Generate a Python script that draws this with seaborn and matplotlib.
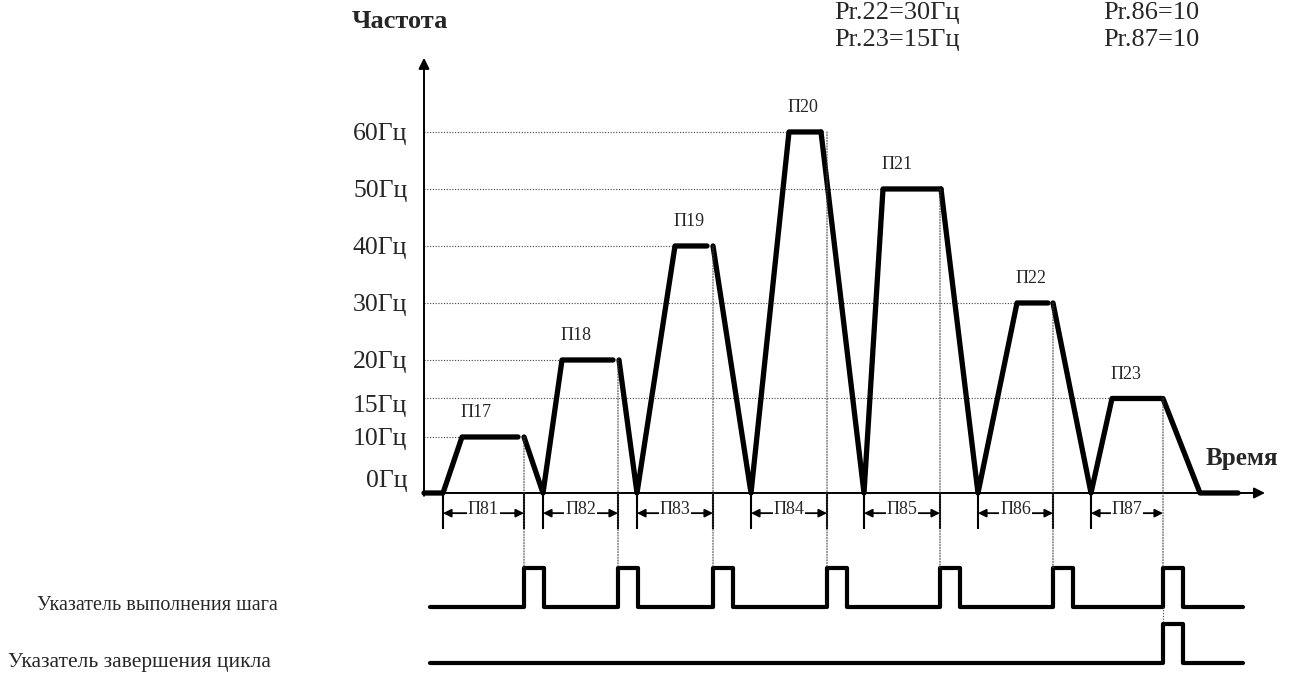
import numpy as np
import pandas as pd
import matplotlib
matplotlib.use('Agg')
import matplotlib.pyplot as plt
from matplotlib.patches import ConnectionPatch
from matplotlib.transforms import ScaledTranslation
import seaborn as sns

# Уровни частоты шагов (Гц) и подписи
levels = [10, 20, 40, 60, 50, 30, 15]
step_names = ['П17', 'П18', 'П19', 'П20', 'П21', 'П22', 'П23']
time_names = ['П81', 'П82', 'П83', 'П84', 'П85', 'П86', 'П87']

# Моменты времени (условные единицы)
ramp_start = [19, 119, 213, 327, 440, 554, 667]
ramp_end = [38, 138, 251, 365, 459, 593, 688]
hold_end = [94, 189, 283, 397, 517, 624, 738]
decel_start = [100, 195, 289, 397, 517, 629, 739]
step_end = [100, 194, 289, 403, 516, 629, 739]
stop_time = 776
end_time = 814
pulse_len = 20

freq_ticks = [0, 10, 15, 20, 30, 40, 50, 60]
freq_labels = ['0Гц', '10Гц', '15Гц', '20Гц', '30Гц', '40Гц', '50Гц', '60Гц']
signal_names = ['Указатель выполнения шага', 'Указатель завершения цикла']

sns.set_style('white')
plt.rcParams['font.family'] = ['Liberation Serif', 'DejaVu Serif']


# нелинейная шкала частоты как на схеме
def fwd(f):
    f = np.asarray(f, float)
    return np.where(f <= 10, f * 5.6, np.where(f <= 20, 56 + (f - 10) * 7.7, 133 + (f - 20) * 5.7))


def inv(p):
    p = np.asarray(p, float)
    return np.where(p <= 56, p / 5.6, np.where(p <= 133, 10 + (p - 56) / 7.7, 20 + (p - 133) / 5.7))


# кривая частоты по сегментам
rows = []
for k in range(len(levels) + 1):
    pts = []
    if k == 0:
        pts.append((0, 0))
    else:
        pts.append((decel_start[k - 1], levels[k - 1]))
    if k < len(levels):
        pts += [(ramp_start[k], 0), (ramp_end[k], levels[k]), (hold_end[k], levels[k])]
    else:
        pts += [(stop_time, 0), (end_time, 0)]
    for t, f in pts:
        rows.append({'t': t, 'f': f, 'seg': k})
curve = pd.DataFrame(rows)

fig = plt.figure(figsize=(12.9, 6.75), dpi=100)
ax = fig.add_axes([0, 140 / 675, 1, 480 / 675])
ax2 = fig.add_axes([0, 0, 1, 130 / 675])

ax.set_yscale('function', functions=(fwd, inv))

# пунктирные уровни
ax.hlines(levels, 0, ramp_end, colors='#444444', linestyles=(0, (1, 1.5)), lw=0.8)

sns.lineplot(data=curve, x='t', y='f', units='seg', estimator=None, sort=False,
             color='black', lw=3.8, ax=ax, legend=False)

# оси со стрелками
ax.annotate('', xy=(841, 0), xytext=(0, 0),
            arrowprops=dict(arrowstyle='-|>', lw=1.4, color='black', mutation_scale=16, shrinkA=0, shrinkB=0))
ax.annotate('', xy=(0, 73.0), xytext=(0, -0.5),
            arrowprops=dict(arrowstyle='-|>', lw=1.4, color='black', mutation_scale=16, shrinkA=0, shrinkB=0))

# подписи шагов
for name, te, lv in zip(step_names, ramp_end, levels):
    ax.annotate(name, xy=(te, lv), xytext=(14, 24), textcoords='offset pixels',
                ha='center', va='center', fontsize=13)

# интервалы времени шагов
ax.vlines(ramp_start, -6.4, 0, colors='black', lw=1.5)
ax.vlines(step_end[:-1], -6.4, 0, colors='black', lw=1.5)
for name, a, b in zip(time_names, ramp_start, step_end):
    ax.annotate('', xy=(b, -3.6), xytext=(a, -3.6),
                arrowprops=dict(arrowstyle='<|-|>', lw=1.3, color='black', mutation_scale=12, shrinkA=0, shrinkB=0))
    ax.text((a + b) / 2, -3.0, name, ha='center', va='center', fontsize=13,
            bbox=dict(facecolor='white', edgecolor='none', pad=0.5))

ax.set_xlim(-424, 866)
ax.set_ylim(-7.5, 73.5)
ax.set_yticks(freq_ticks)
ax.set_yticklabels(freq_labels)
ax.tick_params(axis='y', length=0, pad=12, labelsize=18.5)
ax.set_xticks([])
ax.set_xlabel('')
ax.set_ylabel('')
for s in ax.spines.values():
    s.set_visible(False)
# подписи оси частоты у вертикальной оси
ax.spines['left'].set_position(('data', 0))
ax.spines['left'].set_visible(True)
ax.spines['left'].set_color('none')
for lab in ax.get_yticklabels():
    if lab.get_text() == '0Гц':
        lab.set_transform(lab.get_transform() + ScaledTranslation(0, 0.14, fig.dpi_scale_trans))
    if lab.get_text() == '15Гц':
        lab.set_transform(lab.get_transform() + ScaledTranslation(0, -0.05, fig.dpi_scale_trans))
ax.patch.set_alpha(0)

# сигналы
row_base = [1.44, 0.0]
pulse_starts = [step_end, [step_end[-1]]]
sig_rows = []
for r, (base, starts) in enumerate(zip(row_base, pulse_starts)):
    sig_rows.append({'t': 6, 'v': base, 'row': r})
    for s in starts:
        for t, v in [(s, base), (s, base + 1), (s + pulse_len, base + 1), (s + pulse_len, base)]:
            sig_rows.append({'t': t, 'v': v, 'row': r})
    sig_rows.append({'t': 819, 'v': base, 'row': r})
sig = pd.DataFrame(sig_rows)

sns.lineplot(data=sig, x='t', y='v', units='row', estimator=None, sort=False,
             color='black', lw=3.0, ax=ax2, legend=False)
ax2.set_xlim(-424, 866)
ax2.set_ylim(-0.308, 3.026)
ax2.axis('off')

# пунктир от конца шага к импульсу
for te, lv in zip(step_end, levels):
    con = ConnectionPatch(xyA=(te, lv), coordsA=ax.transData,
                          xyB=(te, row_base[0] + 1), coordsB=ax2.transData,
                          color='#444444', lw=0.8, linestyle=(0, (1, 1.5)))
    fig.add_artist(con)
ax2.plot([step_end[-1], step_end[-1]], [row_base[0], row_base[1] + 1],
         color='#444444', lw=0.8, linestyle=(0, (1, 1.5)))

# тексты
fig.text(352 / 1290, 1 - 22 / 675, 'Частота', ha='left', va='center', fontsize=19, weight='bold')
fig.text(1206 / 1290, 1 - 459 / 675, 'Время', ha='left', va='center', fontsize=18, weight='bold')
fig.text(834 / 1290, 1 - 13 / 675, 'Pr.22=30Гц', ha='left', va='center', fontsize=19)
fig.text(834 / 1290, 1 - 40 / 675, 'Pr.23=15Гц', ha='left', va='center', fontsize=19)
fig.text(1103 / 1290, 1 - 13 / 675, 'Pr.86=10', ha='left', va='center', fontsize=19)
fig.text(1103 / 1290, 1 - 40 / 675, 'Pr.87=10', ha='left', va='center', fontsize=19)
fig.text(37 / 1290, 1 - 606 / 675, signal_names[0], ha='left', va='center', fontsize=14.5)
fig.text(8 / 1290, 1 - 662 / 675, signal_names[1], ha='left', va='center', fontsize=15.5)

plt.savefig('out.png', dpi=100)
